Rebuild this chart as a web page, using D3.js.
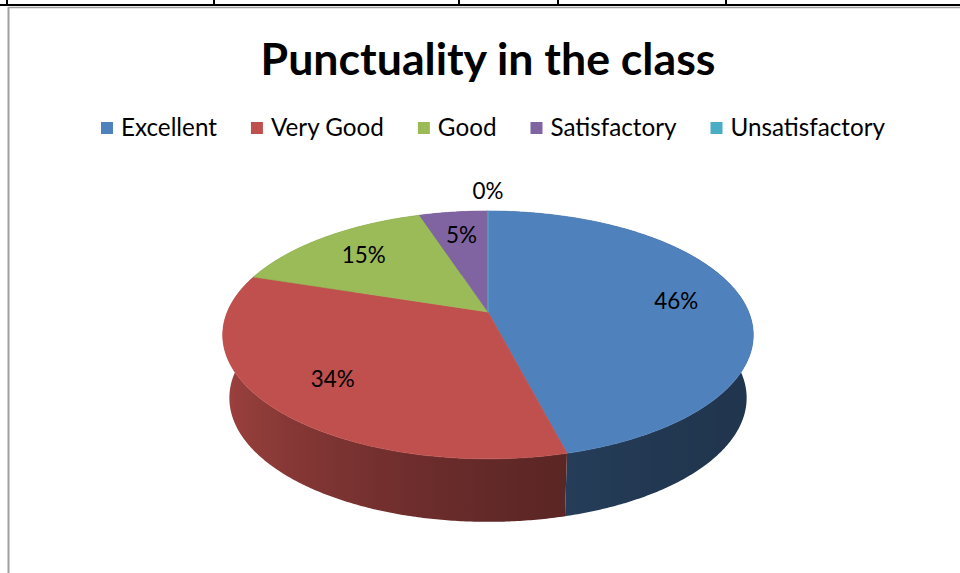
<!DOCTYPE html>
<html><head><meta charset="utf-8">
<script src="https://cdn.jsdelivr.net/npm/d3@7"></script>
<style>html,body{margin:0;padding:0;background:#fff;}svg{display:block;}</style>
</head><body>
<svg id="c" width="960" height="573"></svg>
<script>
const title = "Punctuality in the class";
const categories = ["Excellent", "Very Good", "Good", "Satisfactory", "Unsatisfactory"];
const values = [46, 34, 15, 5, 0];
const valueLabels = ["46%", "34%", "15%", "5%", "0%"];
const colors = ["#4f81bd", "#c0504d", "#9bbb59", "#8064a2", "#4bacc6"];

const svg = d3.select("#c");
const defs = svg.append("defs");
const FONT = "Lato, Carlito, Calibri, sans-serif";

// page frame (table border above, chart border)
svg.append("line").attr("x1", 0).attr("x2", 960).attr("y1", 5).attr("y2", 5).attr("stroke", "#000").attr("stroke-width", 2);
[7, 214, 459, 558, 726].forEach(x => svg.append("line").attr("x1", x).attr("x2", x).attr("y1", 0).attr("y2", 5).attr("stroke", "#000").attr("stroke-width", 2));
svg.append("line").attr("x1", 8.5).attr("x2", 960).attr("y1", 7.5).attr("y2", 7.5).attr("stroke", "#a0a0a0").attr("stroke-width", 1.5);
svg.append("line").attr("x1", 8.5).attr("x2", 8.5).attr("y1", 7).attr("y2", 573).attr("stroke", "#a0a0a0").attr("stroke-width", 2);

function fit(sel, target) {
  const fs = +sel.attr("font-size");
  const w = sel.node().getComputedTextLength();
  sel.attr("font-size", fs * target / w);
  return fs * target / w;
}

// title
const t = svg.append("text").attr("x", 488).attr("y", 75).attr("text-anchor", "middle")
  .attr("font-family", FONT).attr("font-weight", "bold").attr("font-size", 48).attr("fill", "#000").text(title);
fit(t, 455);

// legend
const lg = svg.append("g");
const probe = lg.append("text").attr("font-family", FONT).attr("font-size", 26).text(categories[0]);
const lfs = fit(probe, 96);
probe.remove();
const sq = 12, gapT = 8, gapI = 34, legY = 128;
let items = categories.map((c, i) => {
  const g = lg.append("g");
  g.append("rect").attr("width", sq).attr("height", sq).attr("y", legY - sq / 2).attr("fill", colors[i]);
  const tx = g.append("text").attr("x", sq + gapT).attr("y", legY).attr("dy", "0.35em")
    .attr("font-family", FONT).attr("font-size", lfs).attr("fill", "#000").text(c);
  return { g, w: sq + gapT + tx.node().getComputedTextLength() };
});
const totalW = d3.sum(items, d => d.w) + gapI * (items.length - 1);
let lx = 493 - totalW / 2;
items.forEach(it => { it.g.attr("transform", `translate(${lx},0)`); lx += it.w + gapI; });

// 3D pie projection
const cx = 488, cy = 312, Rx = 260.7, Ry = 119.7, k = 0.185, depth = 63, botScale = 0.975;
function proj(a, r, bottom) {
  const X = r * Math.sin(a), Z = -r * Math.cos(a);
  const f = 1 / (1 - k * Z);
  return [cx + Rx * X * f * (bottom ? botScale : 1), cy + Ry * Z * f + (bottom ? depth : 0)];
}
function shadeAt(a) {
  const deg = a * 180 / Math.PI;
  return 0.41 + 0.44 * Math.pow((1 + Math.cos((deg - 275) * Math.PI / 180)) / 2, 1.8);
}

const pie = d3.pie().sort(null).value(d => d)(values);
const gPie = svg.append("g");

// wall gradients: shade varies with the wall orientation along the front
const xmin = proj(1.5 * Math.PI, 1, false)[0], xmax = proj(0.5 * Math.PI, 1, false)[0];
colors.forEach((c, i) => {
  const grad = defs.append("linearGradient").attr("id", "wall" + i).attr("gradientUnits", "userSpaceOnUse")
    .attr("x1", xmin - 10).attr("x2", xmax + 10).attr("y1", 0).attr("y2", 0);
  const base = d3.rgb(c);
  d3.range(0, 61).forEach(j => {
    const a = 1.5 * Math.PI - Math.PI * j / 60;
    const x = proj(a, 1, false)[0];
    const s = shadeAt(a);
    grad.append("stop").attr("offset", Math.max(0, Math.min(1, (x - xmin + 10) / (xmax - xmin + 20))))
      .attr("stop-color", d3.rgb(base.r * s, base.g * s, base.b * s).formatHex());
  });
});

// side walls, back to front
const walls = pie.map((s, i) => ({ s, i, z: -Math.cos((s.startAngle + s.endAngle) / 2) })).filter(w => w.s.value > 0);
walls.sort((a, b) => a.z - b.z);
walls.forEach(({ s, i }) => {
  const n = Math.max(2, Math.ceil((s.endAngle - s.startAngle) / (Math.PI / 360)));
  const top = [], bot = [];
  for (let j = 0; j <= n; j++) {
    const a = s.startAngle + (s.endAngle - s.startAngle) * j / n;
    top.push(proj(a, 1, false)); bot.push(proj(a, 1, true));
  }
  const pts = top.concat(bot.reverse());
  gPie.append("path").attr("d", "M" + pts.join("L") + "Z").attr("fill", `url(#wall${i})`);
});

// top faces
pie.forEach((s, i) => {
  const n = Math.max(1, Math.ceil((s.endAngle - s.startAngle) / (Math.PI / 360)));
  const pts = [[cx, cy]];
  for (let j = 0; j <= n; j++) pts.push(proj(s.startAngle + (s.endAngle - s.startAngle) * j / n, 1, false));
  gPie.append("path").attr("d", "M" + pts.join("L") + "Z").attr("fill", colors[i])
    .attr("stroke", colors[i]).attr("stroke-width", s.value === 0 ? 1.2 : 0.6).attr("stroke-linejoin", "round");
});

// data labels
const labG = svg.append("g");
const lp = labG.append("text").attr("font-family", FONT).attr("font-size", 25).text("46%");
const dfs = fit(lp, 44);
lp.remove();
pie.forEach((s, i) => {
  const am = (s.startAngle + s.endAngle) / 2;
  let p;
  if (s.value === 0) { p = proj(am, 1, false); p = [p[0], p[1] - 20]; }
  else p = proj(am, 0.74, false);
  labG.append("text").attr("x", p[0]).attr("y", p[1]).attr("dy", "0.35em").attr("text-anchor", "middle")
    .attr("font-family", FONT).attr("font-size", dfs).attr("fill", "#000").text(valueLabels[i]);
});
</script>
</body></html>
